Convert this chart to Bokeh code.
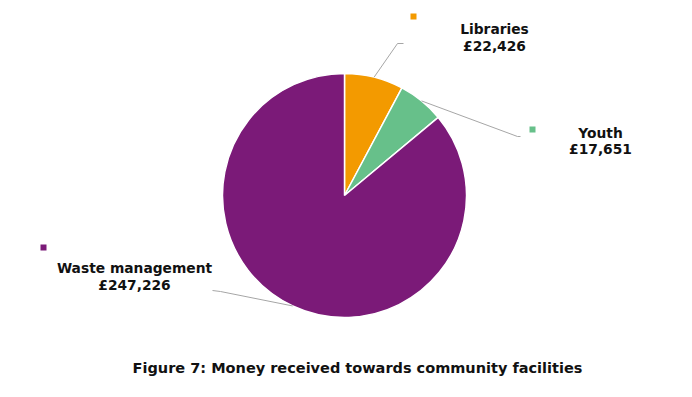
import math
from bokeh.plotting import figure
from bokeh.models import Range1d
from bokeh.core.properties import value
from bokeh.embed import file_html
from bokeh.resources import INLINE

categories = ["Libraries", "Youth", "Waste management"]
amounts = [22426, 17651, 247226]
amount_labels = ["£22,426", "£17,651", "£247,226"]
colors = ["#F39A00", "#67C08A", "#7B1A78"]
title_text = "Figure 7: Money received towards community facilities"

W, H = 676, 381
p = figure(width=W, height=H, output_backend="svg", toolbar_location=None,
           x_range=Range1d(0, W), y_range=Range1d(0, H), min_border=0)
p.axis.visible = False
p.grid.visible = False
p.outline_line_color = None
p.background_fill_color = "white"
p.border_fill_color = "white"

def P(px, py):
    return px, H - py

cx, cy = P(344, 195)
R = 122
total = sum(amounts)
cum = 0.0
mids = []
for amt, col in zip(amounts, colors):
    a0 = cum / total * 2 * math.pi
    cum += amt
    a1 = cum / total * 2 * math.pi
    p.wedge(x=[cx], y=[cy], radius=R,
            start_angle=[math.pi / 2 - a1], end_angle=[math.pi / 2 - a0],
            fill_color=col, line_color="white", line_width=1.5)
    mids.append((a0 + a1) / 2)

font = value("DejaVu Sans")
lead_col = "#A6A6A6"

# leader line knees / ends (page coords), markers, label centres
knees = [[(397, 43), (403, 43)], [(517, 136), (520, 136)], [(220, 291), (212, 290)]]
markers = [(413, 16), (532, 129), (43, 247)]
label_pos = [(494, 28, 45), (600, 132, 148), (134, 267, 284)]

for i, m in enumerate(mids):
    sx = cx + R * math.sin(m)
    sy = cy + R * math.cos(m)
    pts = [P(*k) for k in knees[i]]
    xs = [sx] + [q[0] for q in pts]
    ys = [sy] + [q[1] for q in pts]
    p.line(xs, ys, line_color=lead_col, line_width=1)
    mx, my = P(*markers[i])
    p.scatter([mx], [my], marker="square", size=6, fill_color=colors[i], line_color=None)
    lx, ly1, ly2 = label_pos[i]
    x1, y1 = P(lx, ly1)
    x2, y2 = P(lx, ly2)
    p.text([x1], [y1], text=[categories[i]], text_font=font, text_font_style="bold",
           text_font_size="13.8px", text_align="center", text_baseline="middle", text_color="#111111")
    p.text([x2], [y2], text=[amount_labels[i]], text_font=font, text_font_style="bold",
           text_font_size="13.8px", text_align="center", text_baseline="middle", text_color="#111111")

tx, ty = P(357, 367)
p.text([tx], [ty], text=[title_text], text_font=font, text_font_style="bold",
       text_font_size="14.5px", text_align="center", text_baseline="middle", text_color="#111111")

open("out.html", "w").write(file_html(p, INLINE))
